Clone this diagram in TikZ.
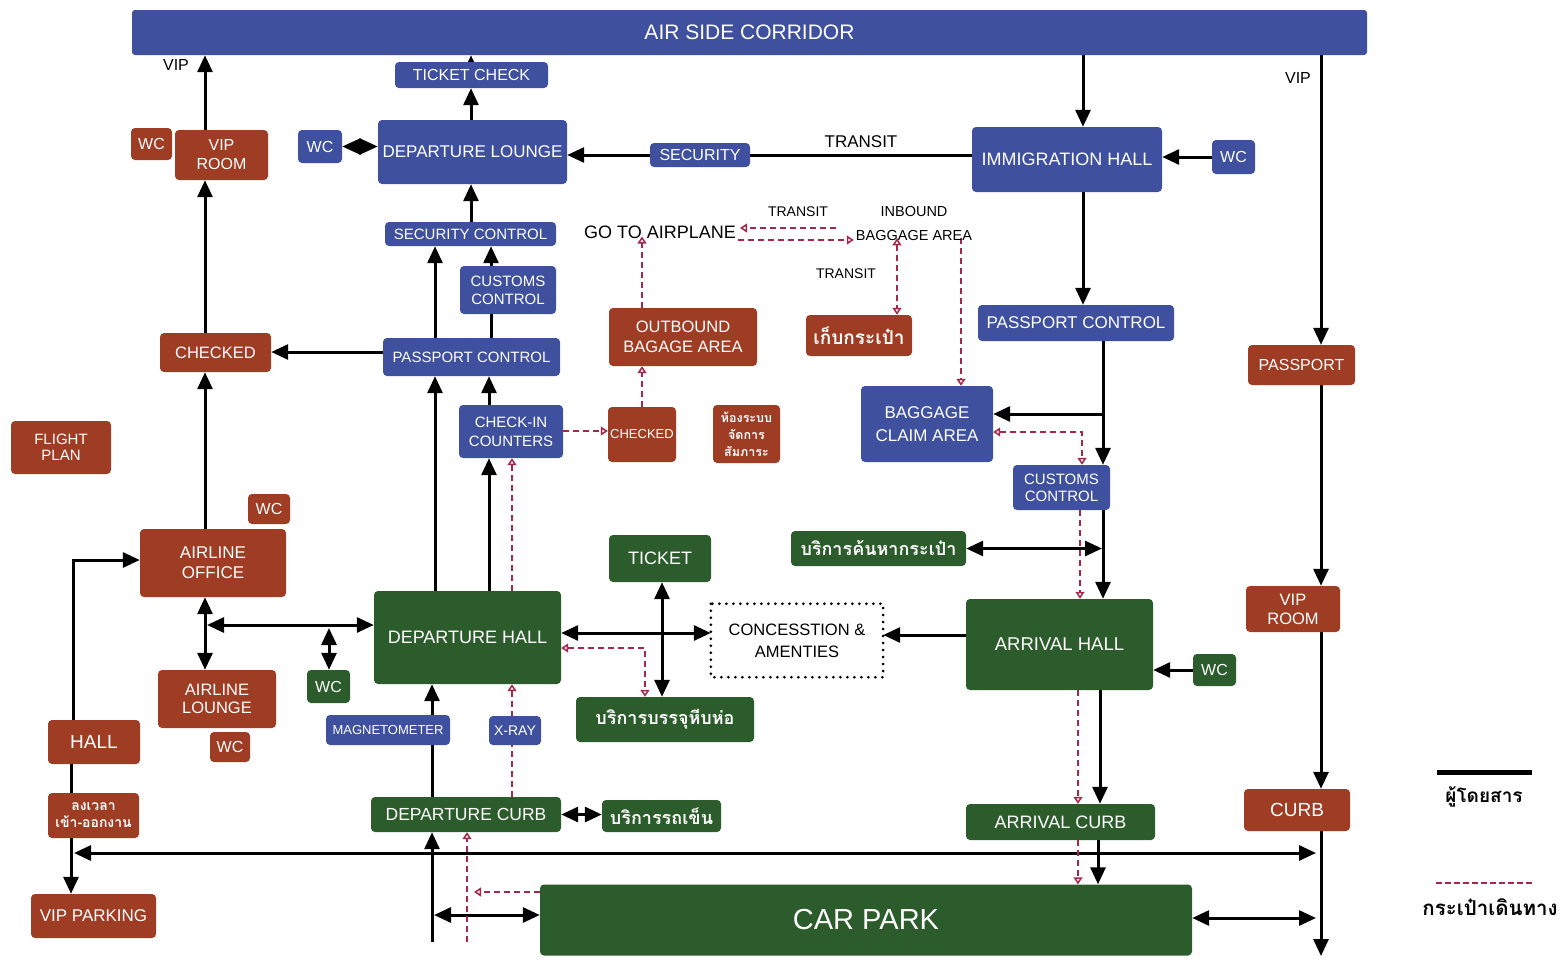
\documentclass[tikz,border=0pt]{standalone}
\usepackage{fontspec}
\setmainfont{Liberation Sans}
\newfontfamily\thaifont[Script=Thai]{Loma}
\usetikzlibrary{arrows.meta,calc}
\definecolor{cblue}{RGB}{62,80,158}
\definecolor{cbrown}{RGB}{158,60,36}
\definecolor{cgreen}{RGB}{44,92,44}
\definecolor{cbag}{RGB}{165,40,75}
\pgfdeclarelayer{bg}
\pgfsetlayers{bg,main}
\newcommand\fz[2]{\fontsize{#1}{#2}\selectfont}
\tikzset{
  boxbase/.style={rounded corners=4pt, text=white, align=center, inner sep=0pt},
  bbox/.style={boxbase, fill=cblue},
  rbox/.style={boxbase, fill=cbrown},
  gbox/.style={boxbase, fill=cgreen},
  lbl/.style={inner sep=0pt, text=black, align=center},
  th/.style={font=\thaifont\bfseries\fz{#1}{#1}},
  pa/.style={line width=3pt, -{Triangle[length=17pt,width=15pt]}},
  pdd/.style={line width=3pt, {Triangle[length=17pt,width=15pt]}-{Triangle[length=17pt,width=15pt]}},
  diam/.style={line width=3pt, {Triangle[length=18.5pt,width=16pt]}-{Triangle[length=18.5pt,width=16pt]}},
  pl/.style={line width=3pt},
  ba/.style={draw=cbag, line width=1.8pt, dash pattern=on 6pt off 4pt, -{Triangle[open,length=7pt,width=9pt,line width=1.5pt]}},
  bdd/.style={draw=cbag, line width=1.8pt, dash pattern=on 6pt off 4pt, {Triangle[open,length=7pt,width=9pt,line width=1.5pt]}-{Triangle[open,length=7pt,width=9pt,line width=1.5pt]}},
}
\begin{document}
\begin{tikzpicture}[x=1pt,y=-1pt]
\useasboundingbox (0,0) rectangle (1568,961);
% ---------- nodes ----------
\node[bbox, rounded corners=3pt, minimum width=1235, minimum height=45, font=\fz{21}{24}] (corr) at (749.5,32.5) {AIR SIDE CORRIDOR};
\node[bbox, minimum width=153, minimum height=26, font=\fz{16}{19}] (tc) at (471.5,75) {TICKET CHECK};
\node[lbl, font=\fz{16}{19}] (vipl1) at (176,65) {VIP};
\node[rbox, minimum width=41, minimum height=32, font=\fz{16}{19}] (wc1) at (151.5,144) {WC};
\node[rbox, minimum width=93, minimum height=50, font=\fz{16}{19}] (vr1) at (221.5,155) {VIP\\ROOM};
\node[bbox, minimum width=44, minimum height=33, font=\fz{16}{19}] (wc2) at (320,146.5) {WC};
\node[bbox, minimum width=189, minimum height=64, font=\fz{17}{20}] (dl) at (472.5,152) {DEPARTURE LOUNGE};
\node[bbox, minimum width=100, minimum height=24, font=\fz{16}{19}] (sec) at (700,155) {SECURITY};
\node[lbl, font=\fz{17}{20}] (trl1) at (861,142) {TRANSIT};
\node[bbox, minimum width=190, minimum height=65, font=\fz{18}{21}] (imm) at (1067,159.5) {IMMIGRATION HALL};
\node[bbox, minimum width=43, minimum height=34, font=\fz{16}{19}] (wc3) at (1233.5,157) {WC};
\node[lbl, font=\fz{16}{19}] (vipl2) at (1298,78) {VIP};
\node[bbox, minimum width=171, minimum height=24, font=\fz{15}{18}] (secc) at (470.5,234) {SECURITY CONTROL};
\node[lbl, font=\fz{18}{21}] (go) at (660,232) {GO TO AIRPLANE};
\node[lbl, font=\fz{14}{17}] (trl2) at (798,212) {TRANSIT};
\node[lbl, font=\fz{14.5}{17}] (inb) at (914,212) {INBOUND};
\node[lbl, font=\fz{14.5}{17}] (baga) at (914,236) {BAGGAGE AREA};
\node[lbl, font=\fz{14}{17}] (trl3) at (846,274) {TRANSIT};
\node[bbox, minimum width=96, minimum height=48, font=\fz{15}{18}] (cus1) at (508,290) {CUSTOMS\\CONTROL};
\node[rbox, minimum width=148, minimum height=58, font=\fz{16.5}{20}] (obag) at (683,337) {OUTBOUND\\BAGAGE AREA};
\node[rbox, minimum width=106, minimum height=41, th=19] (keep) at (859,335.5) {เก็บกระเป๋า};
\node[bbox, minimum width=196, minimum height=36, font=\fz{17}{20}] (pcR) at (1076,323) {PASSPORT CONTROL};
\node[rbox, minimum width=107, minimum height=40, font=\fz{16}{19}] (pp) at (1301.5,365) {PASSPORT};
\node[rbox, minimum width=111, minimum height=39, font=\fz{16.5}{19}] (chk1) at (215.5,352.5) {CHECKED};
\node[bbox, minimum width=177, minimum height=38, font=\fz{15}{18}] (pcL) at (471.5,357) {PASSPORT CONTROL};
\node[rbox, minimum width=100, minimum height=53, font=\fz{15}{16}] (fp) at (61,447.5) {FLIGHT\\PLAN};
\node[bbox, minimum width=104, minimum height=53, font=\fz{15}{19}] (ci) at (511,431.5) {CHECK-IN\\COUNTERS};
\node[rbox, minimum width=68, minimum height=55, font=\fz{13}{16}] (chk2) at (642,434.5) {CHECKED};
\node[rbox, minimum width=67, minimum height=58, font=\thaifont\bfseries\fz{12.5}{17}, align=center] (bhs) at (746.5,434) {ห้องระบบ\\จัดการ\\สัมภาระ};
\node[bbox, minimum width=132, minimum height=76, font=\fz{17}{23}] (bca) at (927,424) {BAGGAGE\\CLAIM AREA};
\node[bbox, minimum width=97, minimum height=45, font=\fz{15}{17}] (cus2) at (1061.5,487.5) {CUSTOMS\\CONTROL};
\node[rbox, minimum width=42, minimum height=30, font=\fz{16}{19}] (wc4) at (269,509) {WC};
\node[rbox, minimum width=146, minimum height=68, font=\fz{17}{20}] (ao) at (213,563) {AIRLINE\\OFFICE};
\node[gbox, minimum width=102, minimum height=47, font=\fz{18}{21}] (tkt) at (660,558.5) {TICKET};
\node[gbox, minimum width=175, minimum height=35, th=18] (srch) at (878.5,548.5) {บริการค้นหากระเป๋า};
\node[gbox, minimum width=187, minimum height=93, font=\fz{18}{21}] (dh) at (467.5,637.5) {DEPARTURE HALL};
\node[lbl, minimum width=172, minimum height=73, font=\fz{16.5}{22}] (con) at (797,640.5) {CONCESSTION \&\\AMENTIES};
\node[gbox, minimum width=187, minimum height=91, font=\fz{18.5}{21}] (ah) at (1059.5,644.5) {ARRIVAL HALL};
\node[gbox, minimum width=43, minimum height=32, font=\fz{16}{19}] (wc5) at (1214.5,670) {WC};
\node[rbox, minimum width=94, minimum height=46, font=\fz{16.5}{19}] (vr2) at (1293,609) {VIP\\ROOM};
\node[rbox, minimum width=118, minimum height=58, font=\fz{16.5}{18}] (al) at (217,699) {AIRLINE\\LOUNGE};
\node[gbox, minimum width=43, minimum height=33, font=\fz{16}{19}] (wc6) at (328.5,686.5) {WC};
\node[rbox, minimum width=40, minimum height=30, font=\fz{16}{19}] (wc7) at (230,747) {WC};
\node[rbox, minimum width=92, minimum height=44, font=\fz{19}{22}] (hall) at (94,742) {HALL};
\node[bbox, minimum width=124, minimum height=30, font=\fz{13}{16}] (mag) at (388,730) {MAGNETOMETER};
\node[bbox, minimum width=52, minimum height=29, font=\fz{14}{17}] (xr) at (515,730.5) {X-RAY};
\node[gbox, minimum width=178, minimum height=45, th=18] (pack) at (665,719.5) {บริการบรรจุหีบห่อ};
\node[rbox, minimum width=91, minimum height=45, font=\thaifont\bfseries\fz{14}{17}, align=center] (clock) at (93.5,815.5) {ลงเวลา\\เข้า-ออกงาน};
\node[gbox, minimum width=190, minimum height=35, font=\fz{17.5}{20}] (dc) at (466,814.5) {DEPARTURE CURB};
\node[gbox, minimum width=119, minimum height=32, th=18] (cart) at (661.5,816) {บริการรถเข็น};
\node[gbox, minimum width=189, minimum height=36, font=\fz{18}{21}] (ac) at (1060.5,822) {ARRIVAL CURB};
\node[rbox, minimum width=106, minimum height=42, font=\fz{19}{22}] (curb) at (1297,810) {CURB};
\node[rbox, minimum width=125, minimum height=44, font=\fz{17}{20}] (vpk) at (93.5,916) {VIP PARKING};
\node[gbox, minimum width=652, minimum height=71, font=\fz{29}{32}] (cp) at (866,920) {CAR PARK};
% legend
\coordinate (lg1a) at (1437,772); \coordinate (lg1b) at (1532,772);
\coordinate (lg2a) at (1436,883); \coordinate (lg2b) at (1534,883);
\node[lbl, th=19] (lgt1) at (1484,797) {ผู้โดยสาร};
\node[lbl, th=20.5] (lgt2) at (1490,907) {กระเป๋าเดินทาง};
% ---------- column / row coordinates ----------
\coordinate (c205) at (205,0);
\coordinate (c471) at (471,0);
\coordinate (c1083) at (1083,0);
\coordinate (c1321) at (1321,0);
\coordinate (c432) at (432,0);
\coordinate (c435) at (435,0);
\coordinate (c489) at (489,0);
\coordinate (c491) at (491,0);
\coordinate (c662) at (662,0);
\coordinate (c1100) at (1100,0);
\coordinate (c1098) at (1098,0);
\coordinate (c1103) at (1103,0);
\coordinate (c73) at (73,0);
\coordinate (c71) at (71,0);
\coordinate (c642) at (642,0);
\coordinate (c897) at (897,0);
\coordinate (c961) at (961,0);
\coordinate (c1082) at (1082,0);
\coordinate (c1080) at (1080,0);
\coordinate (c1078) at (1078,0);
\coordinate (c467) at (467,0);
\coordinate (c512) at (512,0);
\coordinate (c645) at (645,0);
\coordinate (r352) at (0,352);
\coordinate (r633) at (0,633);
\coordinate (r635) at (0,635);
\coordinate (r431) at (0,431);
\coordinate (r240) at (0,240);
\coordinate (r228) at (0,228);
\coordinate (r432) at (0,432);
\coordinate (r648) at (0,648);
\coordinate (r892) at (0,892);
\coordinate (r915) at (0,915);
\coordinate (r918) at (0,918);
\coordinate (bot1321) at (1321,956);
\coordinate (hL) at (74,853);
\coordinate (hR) at (1316,853);
\coordinate (cpR) at (1316,918);
\coordinate (cpL) at (434,915);
\coordinate (b432) at (432,942);
\coordinate (j205) at (207,625);
\coordinate (j329) at (329,628);
\coordinate (j1103) at (1103,414);
\coordinate (j1101) at (1102,548.5);
\coordinate (j73) at (73,560);
\coordinate (j1082) at (1082,432);
\coordinate (j478) at (474,892);
\coordinate (b467) at (467,942);
\coordinate (j645) at (645,648);
\coordinate (trb) at (836,228);
% ---------- connectors ----------
\begin{pgfonlayer}{bg}
\draw[pa] (vr1.north -| c205) -- (corr.south -| c205);
\draw[pa] (chk1.north -| c205) -- (vr1.south -| c205);
\draw[pa] (ao.north -| c205) -- (chk1.south -| c205);
\draw[pa] (pcL.west |- r352) -- (chk1.east |- r352);
\draw[diam] (wc2.east) -- (dl.west |- wc2.east);
\draw[pa] (dl.north -| c471) -- (tc.south -| c471);
\draw[pa] (tc.north -| c471) -- (corr.south -| c471);
\draw[pa] (secc.north -| c471) -- (dl.south -| c471);
\draw[pa] (sec.west) -- (dl.east |- sec.west);
\draw[pl] (imm.west |- sec.east) -- (sec.east);
\draw[pa] (corr.south -| c1083) -- (imm.north -| c1083);
\draw[pa] (wc3.west) -- (imm.east |- wc3.west);
\draw[pa] (imm.south -| c1083) -- (pcR.north -| c1083);
\draw[pa] (corr.south -| c1321) -- (pp.north -| c1321);
\draw[pa] (pp.south -| c1321) -- (vr2.north -| c1321);
\draw[pa] (vr2.south -| c1321) -- (curb.north -| c1321);
\draw[pa] (curb.south -| c1321) -- (bot1321);
\draw[pdd] (hL) -- (hR);
\draw[pdd] (cp.east |- r918) -- (cpR);
\draw[pdd] (cp.west |- r915) -- (cpL);
\draw[pa] (b432) -- (dc.south -| c432);
\draw[pa] (dc.north -| c432) -- (dh.south -| c432);
\draw[pdd] (dc.east) -- (cart.west |- dc.east);
\draw[pa] (dh.north -| c435) -- (pcL.south -| c435);
\draw[pa] (dh.north -| c489) -- (ci.south -| c489);
\draw[pa] (ci.north -| c489) -- (pcL.south -| c489);
\draw[pa] (pcL.north -| c435) -- (secc.south -| c435);
\draw[pl] (pcL.north -| c491) -- (cus1.south -| c491);
\draw[pa] (cus1.north -| c491) -- (secc.south -| c491);
\draw[pdd] (ao.south -| c205) -- (al.north -| c205);
\draw[pdd] (j205) -- (dh.west |- j205);
\draw[pdd] (j329) -- (wc6.north -| j329);
\draw[pdd] (dh.east |- r633) -- (con.west |- r633);
\draw[pdd] (tkt.south -| c662) -- (pack.north -| c662);
\draw[pa] (ah.west |- r635) -- (con.east |- r635);
\draw[pa] (wc5.west) -- (ah.east |- wc5.west);
\draw[pa] (ah.south -| c1100) -- (ac.north -| c1100);
\draw[pa] (ac.south -| c1098) -- (cp.north -| c1098);
\draw[pa] (pcR.south -| c1103) -- (cus2.north -| c1103);
\draw[pa] (j1103) -- (bca.east |- j1103);
\draw[pa] (cus2.south -| c1103) -- (ah.north -| c1103);
\draw[pdd] (srch.east) -- (j1101);
\draw[pa] (hall.north -| c73) -- (j73) -- (ao.west |- j73);
\draw[pl] (hall.south -| c71) -- (clock.north -| c71);
\draw[pa] (clock.south -| c71) -- (vpk.north -| c71);
% baggage
\draw[ba] (ci.east |- r431) -- (chk2.west |- r431);
\draw[ba] (chk2.north -| c642) -- (obag.south -| c642);
\draw[ba] (obag.north -| c642) -- ([yshift=2pt]go.south -| c642);
\draw[ba] ([xshift=2pt]go.east |- r240) -- ([xshift=-2pt]baga.west |- r240);
\draw[ba] (trb) -- ([xshift=4pt]go.east |- r228);
\draw[bdd] ([yshift=3pt]baga.south -| c897) -- (keep.north -| c897);
\draw[ba] ([yshift=3pt]baga.south -| c961) -- (bca.north -| c961);
\draw[bdd] (bca.east |- r432) -- (j1082) -- (cus2.north -| c1082);
\draw[ba] (cus2.south -| c1080) -- (ah.north -| c1080);
\draw[ba] (ah.south -| c1078) -- (ac.north -| c1078);
\draw[ba] (ac.south -| c1078) -- (cp.north -| c1078);
\draw[ba] (cp.west |- r892) -- (j478);
\draw[ba] (b467) -- (dc.south -| c467);
\draw[ba] (dc.north -| c512) -- (dh.south -| c512);
\draw[ba] (dh.north -| c512) -- (ci.south -| c512);
\draw[bdd] (dh.east |- r648) -- (j645) -- (pack.north -| c645);
\end{pgfonlayer}
\draw[draw=black, line width=3pt, line cap=round, dash pattern=on 0pt off 7pt] (con.north west) rectangle (con.south east);
\draw[line width=5pt] (lg1a) -- (lg1b);
\draw[draw=cbag, line width=2pt, dash pattern=on 6pt off 3pt] (lg2a) -- (lg2b);
\end{tikzpicture}
\end{document}
